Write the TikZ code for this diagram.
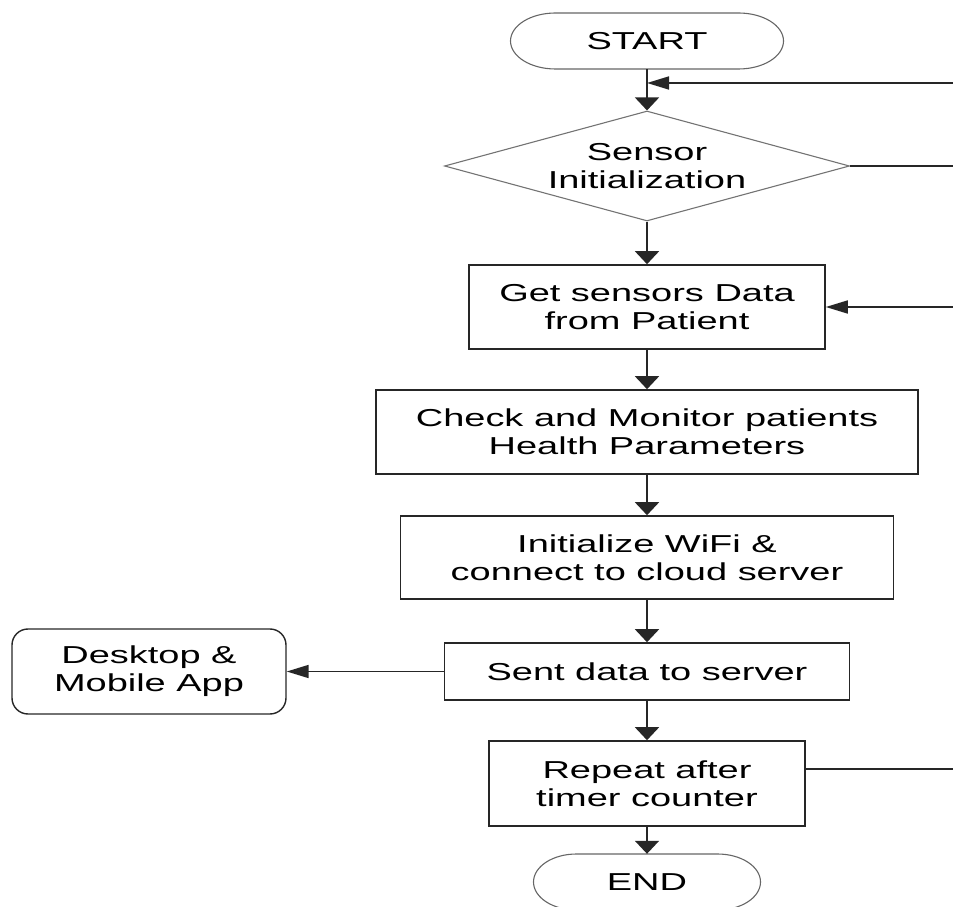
\documentclass[tikz,border=0pt]{standalone}
\usepackage{fontspec}
\setmainfont{Liberation Sans}[FakeStretch=1.55]
\usetikzlibrary{shapes.geometric,arrows.meta,calc}

\begin{document}
\begin{tikzpicture}[x=1pt,y=1pt,
  every node/.style={font=\fontsize{24.5}{28}\selectfont, align=center, inner sep=0pt},
  procbox/.style={draw=black!85, line width=1.6pt, rectangle},
  decision/.style={draw=black!55, line width=1.1pt, diamond, aspect=3.68},
  appbox/.style={draw=black!85, line width=1.4pt, rounded corners=16pt},
  termline/.style={draw=black!60, line width=1.1pt},
  flow/.style={line width=1.7pt, draw=black!85},
  downtip/.style={-{Triangle[width=24pt,length=13pt]}},
  lefttip/.style={-{Triangle[width=13pt,length=22pt]}},
]
\useasboundingbox (0,0) rectangle (953,906);

% terminals
\node[minimum width=273pt, minimum height=56pt] (start) at (647,865) {START};
\draw[termline] ($(start)+(-91.5,28)$) -- ($(start)+(91.5,28)$)
  arc[start angle=90, end angle=-90, x radius=45, y radius=28]
  -- ($(start)+(-91.5,-28)$)
  arc[start angle=270, end angle=90, x radius=45, y radius=28] -- cycle;

\node[minimum width=227pt, minimum height=56pt] (finish) at (647,24) {END};
\draw[termline] ($(finish)+(-70.5,28)$) -- ($(finish)+(70.5,28)$)
  arc[start angle=90, end angle=-90, x radius=43, y radius=28]
  -- ($(finish)+(-70.5,-28)$)
  arc[start angle=270, end angle=90, x radius=43, y radius=28] -- cycle;

% decision and process steps
\node[decision, minimum width=405pt, minimum height=110pt] (sens) at (647,740) {Sensor\\Initialization};
\node[procbox, minimum width=356pt, minimum height=84pt] (get) at (647,599) {Get sensors Data\\from Patient};
\node[procbox, minimum width=542pt, minimum height=84pt] (check) at (647,474) {Check and Monitor patients\\Health Parameters};
\node[procbox, minimum width=493pt, minimum height=83pt] (init) at (647,348.5) {Initialize WiFi \&\\connect to cloud server};
\node[procbox, minimum width=405pt, minimum height=57pt] (sent) at (647,234.5) {Sent data to server};
\node[procbox, minimum width=316pt, minimum height=85pt] (rep) at (647,122.5) {Repeat after\\timer counter};
\node[appbox, minimum width=274pt, minimum height=85pt] (app) at (149,234.5) {Desktop \&\\Mobile App};

% free ends at the right border
\coordinate (fbtop) at (953,823);
\coordinate (dright) at (953,740);
\coordinate (gright) at (953,599);
\coordinate (rright) at (953,137);

% main flow
\draw[flow, downtip] (start.south) -- (sens.north);
\draw[flow, downtip] (sens.south) -- (get.north);
\draw[flow, downtip] (get.south) -- (check.north);
\draw[flow, downtip] (check.south) -- (init.north);
\draw[flow, downtip] (init.south) -- (sent.north);
\draw[flow, downtip] (sent.south) -- (rep.north);
\draw[flow, downtip] (rep.south) -- (finish.north);

% side connectors
\draw[flow, lefttip] (fbtop) -- (fbtop -| start.south);
\draw[flow] (sens.east) -- (dright);
\draw[flow, lefttip] (gright) -- (get.east);
\draw[flow, lefttip] (sent.west) -- (app.east);
\draw[flow] (rright -| rep.east) -- (rright);
\end{tikzpicture}
\end{document}
